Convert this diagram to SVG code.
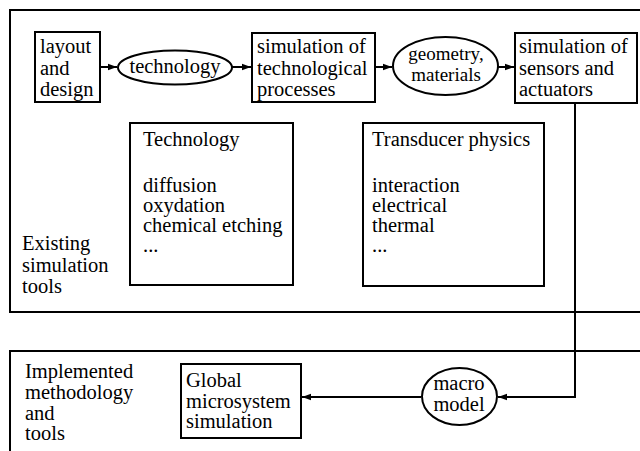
<svg xmlns="http://www.w3.org/2000/svg" width="640" height="451" viewBox="0 0 640 451">
  <style>
    .frame { fill: none; stroke: #000; stroke-width: 2; }
    .box { fill: #fff; stroke: #000; stroke-width: 2; }
    .wire { fill: none; stroke: #000; stroke-width: 2; }
    text { font-family: 'Liberation Serif', 'Times New Roman', Times, 'DejaVu Serif', serif; font-size: 20.5px; fill: #000; }
    .c { text-anchor: middle; }
    .tight { font-size: 19px; }
  </style>
  <defs>
    <marker id="arrow" markerWidth="10" markerHeight="8" refX="9" refY="4" orient="auto" markerUnits="userSpaceOnUse">
      <path d="M0,0.8 L9,4 L0,7.2 Z" fill="#000"/>
    </marker>
  </defs>

  <rect width="640" height="451" fill="#fff"/>

  <!-- regions -->
  <g id="existing-tools">
    <path class="frame" d="M645,10 H10 V312 H645"/>
    <text x="22" y="250">Existing</text>
    <text x="22" y="272">simulation</text>
    <text x="22" y="293">tools</text>
  </g>
  <g id="implemented-tools">
    <path class="frame" d="M645,351 H10 V455"/>
    <text x="25" y="378">Implemented</text>
    <text x="25" y="399">methodology</text>
    <text x="25" y="420">and</text>
    <text x="25" y="440">tools</text>
  </g>

  <!-- connectors -->
  <g id="connectors">
    <line class="wire" x1="100" y1="67" x2="117" y2="67" marker-end="url(#arrow)"/>
    <line class="wire" x1="232" y1="67" x2="251" y2="67" marker-end="url(#arrow)"/>
    <line class="wire" x1="375" y1="67" x2="392" y2="67" marker-end="url(#arrow)"/>
    <line class="wire" x1="498" y1="67" x2="514" y2="67" marker-end="url(#arrow)"/>
    <path class="wire" d="M575,103 V397 H498" marker-end="url(#arrow)"/>
    <line class="wire" x1="421" y1="397" x2="302" y2="397" marker-end="url(#arrow)"/>
  </g>

  <!-- nodes -->
  <g id="layout-design">
    <rect class="box" x="35" y="32" width="65" height="70"/>
    <text x="40" y="53">layout</text>
    <text x="40" y="75">and</text>
    <text x="40" y="96">design</text>
  </g>
  <g id="technology">
    <ellipse class="box" cx="175" cy="67.5" rx="57" ry="17"/>
    <text class="c" x="175" y="73">technology</text>
  </g>
  <g id="process-simulation">
    <rect class="box" x="252" y="33" width="123" height="69"/>
    <text x="257" y="53">simulation of</text>
    <text x="257" y="75">technological</text>
    <text x="257" y="96">processes</text>
  </g>
  <g id="geometry-materials">
    <ellipse class="box" cx="445.5" cy="66" rx="52.5" ry="29"/>
    <text class="c tight" x="446" y="60">geometry,</text>
    <text class="c tight" x="446" y="81">materials</text>
  </g>
  <g id="sensor-simulation">
    <rect class="box" x="515" y="33" width="122" height="70"/>
    <text x="519" y="53">simulation of</text>
    <text x="519" y="75">sensors and</text>
    <text x="519" y="96">actuators</text>
  </g>
  <g id="technology-tools">
    <rect class="box" x="130" y="123" width="163" height="162"/>
    <text x="143" y="146">Technology</text>
    <text x="143" y="192">diffusion</text>
    <text x="143" y="212">oxydation</text>
    <text x="143" y="232">chemical etching</text>
    <text x="143" y="252">...</text>
  </g>
  <g id="transducer-tools">
    <rect class="box" x="363" y="123" width="181" height="163"/>
    <text x="372" y="146">Transducer physics</text>
    <text x="372" y="192">interaction</text>
    <text x="372" y="212">electrical</text>
    <text x="372" y="232">thermal</text>
    <text x="372" y="252">...</text>
  </g>
  <g id="macro-model">
    <ellipse class="box" cx="459.5" cy="396.5" rx="37.5" ry="28.5"/>
    <text class="c" x="459" y="390">macro</text>
    <text class="c" x="459" y="411">model</text>
  </g>
  <g id="global-simulation">
    <rect class="box" x="181" y="364" width="120" height="74"/>
    <text x="186" y="387">Global</text>
    <text x="186" y="408">microsystem</text>
    <text x="186" y="428">simulation</text>
  </g>
</svg>
